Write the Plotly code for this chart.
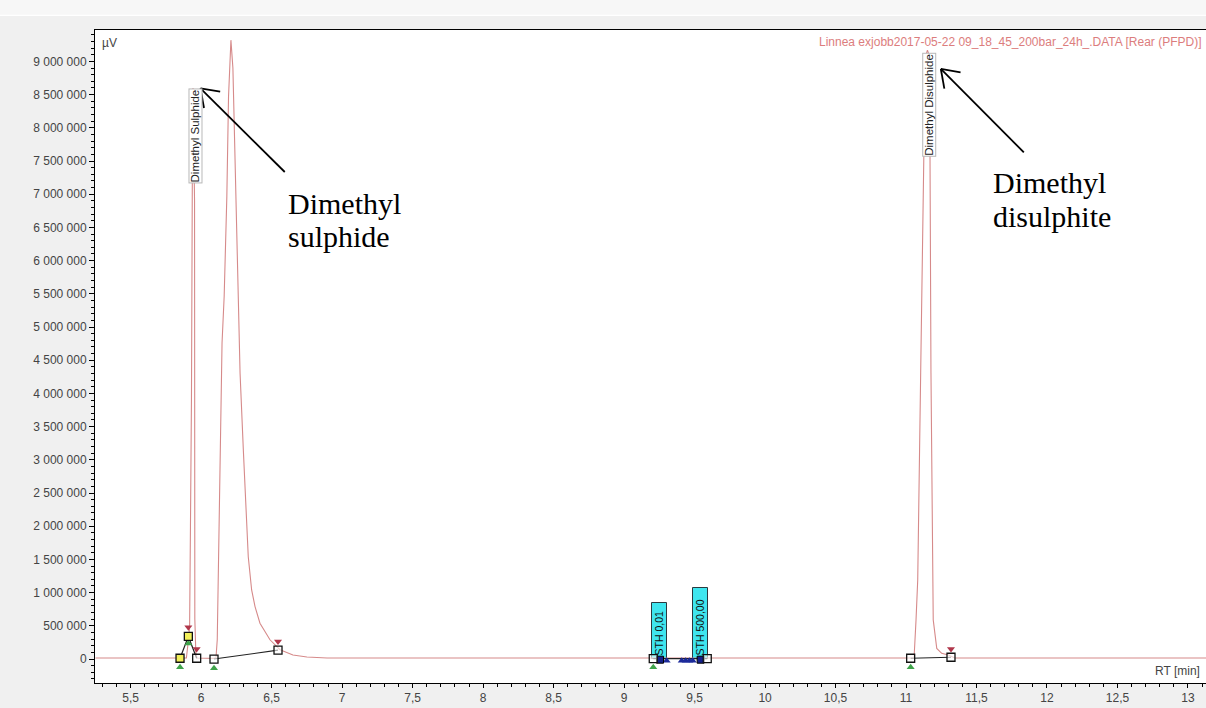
import plotly.graph_objects as go

# ---------------- data ----------------
# chromatogram (retention time in min, signal in µV)
rt = [5.25, 5.85, 5.895, 5.912, 5.918, 5.924, 5.931, 5.938, 5.942, 5.953, 5.954, 5.955, 5.962, 5.970,
      6.090, 6.100, 6.105, 6.114, 6.128, 6.148, 6.163, 6.182, 6.194, 6.211, 6.225, 6.236, 6.246, 6.262,
      6.276, 6.299, 6.318, 6.334, 6.358, 6.382, 6.417, 6.488, 6.559, 6.651, 6.750, 6.893,
      9.000, 11.057, 11.071, 11.083, 11.104, 11.118, 11.127, 11.142, 11.152, 11.163, 11.170, 11.177,
      11.188, 11.193, 11.218, 11.253, 11.300, 11.347, 13.13]
signal = [15000, 15000, 15000, 330000, 500000, 2000000, 3900000, 7670000, 8600000, 6900000, 3900000, 600000, 100000, 15000,
          10000, 12000, 20000, 290000, 2290000, 4760000, 5460000, 6960000, 8470000, 9320000, 8900000, 7900000, 6960000, 5460000,
          4300000, 3150000, 2290000, 1540000, 1040000, 790000, 540000, 290000, 140000, 60000, 30000, 15000,
          15000, 15000, 590000, 1190000, 4310000, 6810000, 7670000, 9100000, 9170000, 9100000, 7670000, 4310000,
          1190000, 590000, 160000, 86000, 60000, 15000, 15000]

# integration baselines
base_rt = [5.85, 5.909, 5.968, None, 6.091, 6.545, None, 9.207, 9.590, None, 11.033, 11.319]
base_val = [12000, 340000, 12000, None, 0, 133000, None, 5000, 5000, None, 12000, 27000]

# event markers
yellow_rt = [5.85, 5.909]
yellow_val = [12000, 340000]
open_sq_rt = [5.968, 6.091, 6.545, 9.207, 9.590, 11.033, 11.319]
open_sq_val = [12000, 0, 133000, 5000, 5000, 12000, 27000]
red_pin_rt = [5.909, 5.968, 6.545, 11.319]
red_pin_val = [480000, 150000, 265000, 150000]
green_pin_rt = [5.85, 5.909, 6.091, 9.207, 11.033]
green_pin_val = [-125000, 235000, -140000, -125000, -125000]
navy_sq_rt = [9.255, 9.543]
navy_sq_val = [-10000, -10000]
navy_pin_rt = [9.302, 9.409, 9.437, 9.463, 9.487]
navy_pin_val = [-25000, -25000, -25000, -25000, -25000]

# standards (STH)
sth_rt = [9.249, 9.544]
sth_height = [848000, 1065000]
sth_labels = ["STH 0,01", "STH 500,00"]

# peak names
peak_names = ["Dimethyl Sulphide", "Dimethyl Disulphide"]
peak_label_rt = [5.963, 11.163]
peak_label_val = [8600000, 9130000]

# axis ticks
x_tickvals = [5.5, 6, 6.5, 7, 7.5, 8, 8.5, 9, 9.5, 10, 10.5, 11, 11.5, 12, 12.5, 13]
x_ticktext = ["5,5", "6", "6,5", "7", "7,5", "8", "8,5", "9", "9,5", "10", "10,5", "11", "11,5", "12", "12,5", "13"]
y_tickvals = [0, 500000, 1000000, 1500000, 2000000, 2500000, 3000000, 3500000, 4000000, 4500000,
              5000000, 5500000, 6000000, 6500000, 7000000, 7500000, 8000000, 8500000, 9000000]
y_ticktext = ["0", "500 000", "1 000 000", "1 500 000", "2 000 000", "2 500 000", "3 000 000", "3 500 000",
              "4 000 000", "4 500 000", "5 000 000", "5 500 000", "6 000 000", "6 500 000", "7 000 000",
              "7 500 000", "8 000 000", "8 500 000", "9 000 000"]

title_text = "Linnea exjobb2017-05-22 09_18_45_200bar_24h_.DATA [Rear (PFPD)]"

# ---------------- figure ----------------
fig = go.Figure()

fig.add_trace(go.Bar(
    x=sth_rt, y=sth_height, width=0.106, text=sth_labels,
    textposition="inside", insidetextanchor="start", textangle=-90, constraintext="none",
    textfont=dict(size=10.5, color="#111", family="Liberation Sans, Arial, sans-serif"),
    marker=dict(color="#3fe6ef", line=dict(color="#2a3a40", width=1)),
    hoverinfo="skip"))

fig.add_trace(go.Scatter(x=rt, y=signal, mode="lines",
                         line=dict(color="#d68a8a", width=1.1), hoverinfo="skip"))

fig.add_trace(go.Scatter(x=base_rt, y=base_val, mode="lines",
                         line=dict(color="#222", width=1.2), hoverinfo="skip"))

fig.add_trace(go.Scatter(x=red_pin_rt, y=red_pin_val, mode="markers",
                         marker=dict(symbol="triangle-down", size=7, color="#b0364a"), hoverinfo="skip"))
fig.add_trace(go.Scatter(x=green_pin_rt, y=green_pin_val, mode="markers",
                         marker=dict(symbol="triangle-up", size=7, color="#3fa34a"), hoverinfo="skip"))
fig.add_trace(go.Scatter(x=navy_pin_rt, y=navy_pin_val, mode="markers",
                         marker=dict(symbol="triangle-up", size=7, color="#1c2a9a"), hoverinfo="skip"))
fig.add_trace(go.Scatter(x=navy_sq_rt, y=navy_sq_val, mode="markers",
                         marker=dict(symbol="square", size=7, color="#14208c",
                                     line=dict(color="#000", width=1)), hoverinfo="skip"))
fig.add_trace(go.Scatter(x=yellow_rt, y=yellow_val, mode="markers",
                         marker=dict(symbol="square", size=8, color="#f2ef5a",
                                     line=dict(color="#111", width=1.3)), hoverinfo="skip"))
fig.add_trace(go.Scatter(x=open_sq_rt, y=open_sq_val, mode="markers",
                         marker=dict(symbol="square", size=8, color="rgba(255,255,255,0.6)",
                                     line=dict(color="#111", width=1.3)), hoverinfo="skip"))

annotations = []
# peak name labels (rotated, boxed)
for name, px, py in zip(peak_names, peak_label_rt, peak_label_val):
    annotations.append(dict(x=px, y=py, xref="x", yref="y", text=name, showarrow=False,
                            textangle=-90, xanchor="center", yanchor="top",
                            bgcolor="white", bordercolor="#b8b8b8", borderwidth=1, borderpad=0,
                            font=dict(size=11.5, color="#222", family="Liberation Sans, Arial, sans-serif")))

serif = "Liberation Serif, Times New Roman, serif"
callouts = [("Dimethyl", 6.602, 6867000), ("sulphide", 6.602, 6362000),
            ("Dimethyl", 11.600, 7169000), ("disulphite", 11.600, 6662000)]
for txt, cx, cy in callouts:
    annotations.append(dict(x=cx, y=cy, xref="x", yref="y", text=txt, showarrow=False,
                            xanchor="left", yanchor="middle",
                            font=dict(size=30, color="#000", family=serif)))

annotations.append(dict(x=0.9973, y=0.9816, xref="paper", yref="paper", text=title_text,
                        showarrow=False, xanchor="right", yanchor="middle",
                        font=dict(size=12, color="#dc7d7d", family="Liberation Sans, Arial, sans-serif")))
annotations.append(dict(x=0.0135, y=0.980, xref="paper", yref="paper", text="µV",
                        showarrow=False, xanchor="center", yanchor="middle",
                        font=dict(size=12, color="#444", family="Liberation Sans, Arial, sans-serif")))
annotations.append(dict(x=0.9964, y=0.0184, xref="paper", yref="paper", text="RT [min]",
                        showarrow=False, xanchor="right", yanchor="middle",
                        font=dict(size=12, color="#444", family="Liberation Sans, Arial, sans-serif")))

# arrows (head anchored in data space, drawn in pixel offsets)
arrows = [(5.995, 8595000, 84.3, -83.7), (11.247, 8886000, 83.0, -83.3)]
shapes = []
for ax_, ay_, tx, ty in arrows:
    for (dx, dy) in [(tx, ty), (3.5, -19.7), (19.7, -3.4)]:
        shapes.append(dict(type="line", xref="x", yref="y", xsizemode="pixel", ysizemode="pixel",
                           xanchor=ax_, yanchor=ay_, x0=0, y0=0, x1=dx, y1=dy,
                           line=dict(color="#000", width=1.8)))

# window chrome at the top
shapes.append(dict(type="rect", xref="paper", yref="paper", x0=-0.1, x1=1.01, y0=1.024, y1=1.05,
                   fillcolor="#f7f7f7", line=dict(width=0), layer="below"))
shapes.append(dict(type="line", xref="paper", yref="paper", x0=-0.1, x1=1.01, y0=1.0225, y1=1.0225,
                   line=dict(color="#ffffff", width=1.5)))

fig.update_layout(
    width=1206, height=708,
    margin=dict(l=95, r=0, t=30, b=25),
    paper_bgcolor="#f0f0f0", plot_bgcolor="#ffffff",
    showlegend=False,
    annotations=annotations, shapes=shapes,
    font=dict(family="Liberation Sans, Arial, sans-serif", size=12, color="#444"),
    bargap=0,
)
fig.update_xaxes(range=[5.2468, 13.128], tickmode="array", tickvals=x_tickvals, ticktext=x_ticktext,
                 ticks="outside", ticklen=4, tickcolor="#000", tickwidth=1,
                 showline=True, linecolor="#000", linewidth=1, mirror=True,
                 showgrid=False, zeroline=False,
                 tickfont=dict(size=12, color="#444"),
                 minor=dict(tickmode="linear", tick0=0, dtick=0.1, ticks="outside", ticklen=2.5,
                            tickcolor="#000", showgrid=False))
fig.update_yaxes(range=[-361000, 9473000], tickmode="array", tickvals=y_tickvals, ticktext=y_ticktext,
                 ticks="outside", ticklen=5, tickcolor="#000", tickwidth=1,
                 showline=True, linecolor="#000", linewidth=1,
                 showgrid=False, zeroline=False,
                 tickfont=dict(size=12, color="#444"),
                 minor=dict(tickmode="linear", tick0=0, dtick=100000, ticks="outside", ticklen=3,
                            tickcolor="#000", showgrid=False))

fig.write_html("out.html", config={"displayModeBar": False},
               post_script="document.body.style.margin='0px';document.body.style.overflow='hidden';")
